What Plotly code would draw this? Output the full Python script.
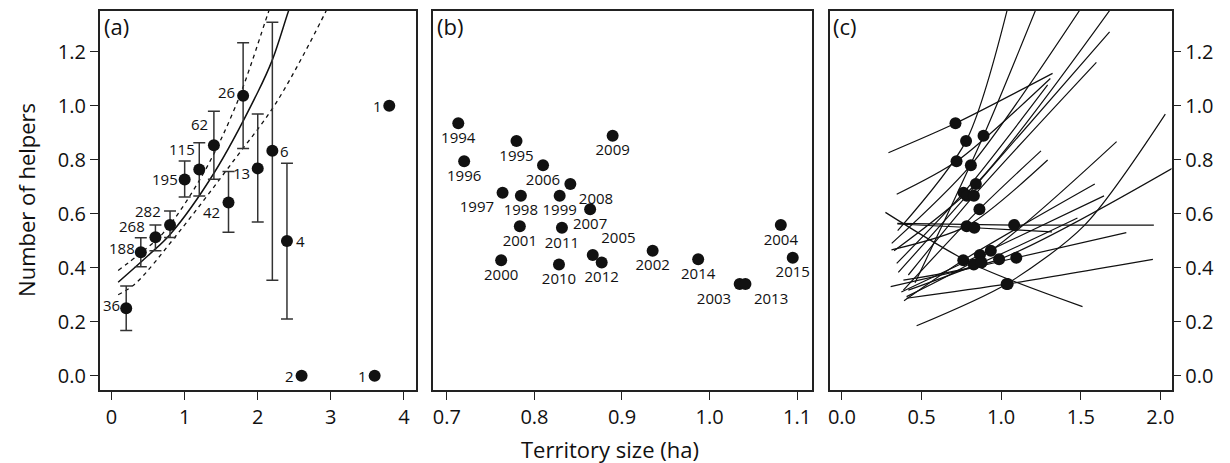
import plotly.graph_objects as go

# ---------------- Panel (a) data ----------------
a_size = [0.2, 0.4, 0.6, 0.8, 1.0, 1.2, 1.4, 1.6, 1.8, 2.0, 2.2, 2.4, 2.6, 3.6, 3.8]
a_help = [0.250, 0.457, 0.513, 0.558, 0.727, 0.764, 0.854, 0.642, 1.037, 0.768, 0.833, 0.499, 0.0, 0.0, 1.0]
a_hi = [0.332, 0.511, 0.558, 0.610, 0.795, 0.863, 0.980, 0.756, 1.233, 0.969, 1.309, 0.787, None, None, None]
a_lo = [0.167, 0.404, 0.463, 0.512, 0.662, 0.666, 0.728, 0.531, 0.842, 0.569, 0.354, 0.210, None, None, None]
a_n = ["36", "188", "268", "282", "195", "115", "62", "42", "26", "13", "6", "4", "2", "1", "1"]
# label offsets from each point, in pixels (right, up)
a_dx = [-15, -19, -23, -22, -20, -17, -14, -17, -17, -16, 12, 14, -12, -12, -12]
a_dy = [3, 4, 11, 14, 0, 20, 21, -10, 4, -5, 0, 0, 0, 0, 0]

fit_x = [0.09, 0.5, 0.8, 1.4, 2.0, 2.2, 2.42, 2.5]
fit_y = [0.346, 0.445, 0.523, 0.75, 1.05, 1.17, 1.35, 1.41]
up_x = [0.09, 0.40, 0.705, 1.23, 1.70, 2.14, 2.2]
up_y = [0.39, 0.455, 0.528, 0.737, 1.00, 1.342, 1.39]
lo_x = [0.09, 0.32, 0.91, 1.68, 2.25, 2.93, 3.0]
lo_y = [0.30, 0.34, 0.528, 0.80, 1.01, 1.348, 1.39]

# ---------------- Panel (b) data ----------------
years = [1994, 1995, 1996, 1997, 1998, 1999, 2000, 2001, 2002, 2003, 2004,
         2005, 2006, 2007, 2008, 2009, 2010, 2011, 2012, 2013, 2014, 2015]
b_size = [0.713, 0.7795, 0.7197, 0.7636, 0.7845, 0.8288, 0.762, 0.7833, 0.935, 1.0344, 1.0814,
          0.8666, 0.8098, 0.8636, 0.841, 0.8893, 0.828, 0.8314, 0.8768, 1.041, 0.987, 1.095]
b_help = [0.935, 0.869, 0.794, 0.678, 0.667, 0.667, 0.428, 0.554, 0.463, 0.340, 0.558,
          0.447, 0.780, 0.617, 0.710, 0.889, 0.412, 0.548, 0.419, 0.340, 0.431, 0.437]
b_pos = ["bottom center", "bottom center", "bottom center", "bottom left", "bottom center",
         "bottom center", "bottom center", "bottom center", "bottom center", "bottom left",
         "bottom center", "top right", "bottom center", "bottom center", "bottom right",
         "bottom center", "bottom center", "bottom center", "bottom center", "bottom right",
         "bottom center", "bottom center"]

# ---------------- Panel (c) data: per-year fitted curves ----------------
c_x0 = [0.292, 0.350, 0.344, 0.344, 0.354, 0.417, 0.390, 0.311, 0.406, 0.469, 0.348,
        0.373, 0.3125, 0.386, 0.3275, 0.459, 0.273, 0.348, 0.417, 0.406, 0.386, 0.306]
c_y0 = [0.826, 0.537, 0.672, 0.416, 0.383, 0.373, 0.278, 0.466, 0.293, 0.185, 0.564,
        0.310, 0.490, 0.317, 0.463, 0.344, 0.605, 0.562, 0.317, 0.287, 0.354, 0.330]
c_x1 = [1.323, 1.04, 1.309, 1.292, 1.681, 1.598, 1.588, 1.292, 1.725, 2.031, 1.959,
        1.646, 1.50, 1.25, 1.69, 1.22, 1.511, 1.319, 1.479, 1.953, 2.08, 1.786]
c_y1 = [1.120, 1.36, 1.101, 1.077, 1.274, 1.161, 0.710, 0.799, 0.867, 0.969, 0.558,
        0.666, 1.36, 0.833, 1.36, 1.36, 0.256, 0.533, 0.584, 0.431, 0.77, 0.530]
c_xm = {2003: 1.523}
c_ym = {2003: 0.557}

FONT = "Open Sans"
BLACK = "#111111"

fig = go.Figure()

# ---- panel (a)
fig.add_trace(go.Scatter(x=fit_x, y=fit_y, mode="lines", line=dict(color=BLACK, width=1.5, shape="spline"),
                         xaxis="x", yaxis="y", showlegend=False))
for dx_, dy_ in ((up_x, up_y), (lo_x, lo_y)):
    fig.add_trace(go.Scatter(x=dx_, y=dy_, mode="lines",
                             line=dict(color=BLACK, width=1.3, dash="4px,4px", shape="spline"),
                             xaxis="x", yaxis="y", showlegend=False))

idx = [i for i in range(len(a_size)) if a_hi[i] is not None]
fig.add_trace(go.Scatter(
    x=[a_size[i] for i in idx], y=[a_help[i] for i in idx], mode="markers",
    marker=dict(color=BLACK, size=12, opacity=0),
    error_y=dict(type="data", symmetric=False,
                 array=[a_hi[i] - a_help[i] for i in idx],
                 arrayminus=[a_help[i] - a_lo[i] for i in idx],
                 color="#333333", thickness=1.5, width=6),
    xaxis="x", yaxis="y", showlegend=False))
fig.add_trace(go.Scatter(
    x=a_size, y=a_help, mode="markers", marker=dict(color=BLACK, size=12), cliponaxis=False,
    xaxis="x", yaxis="y", showlegend=False))

# ---- panel (b)
fig.add_trace(go.Scatter(
    x=b_size, y=b_help, mode="markers+text", text=[str(y) for y in years], textposition=b_pos,
    textfont=dict(family=FONT, size=15, color=BLACK),
    marker=dict(color=BLACK, size=12), cliponaxis=False,
    xaxis="x2", yaxis="y2", showlegend=False))

# ---- panel (c)
for i, yr in enumerate(years):
    xs = [c_x0[i], b_size[i]]
    ys = [c_y0[i], b_help[i]]
    if yr in c_xm:
        xs.append(c_xm[yr]); ys.append(c_ym[yr])
    xs.append(c_x1[i]); ys.append(c_y1[i])
    fig.add_trace(go.Scatter(x=xs, y=ys, mode="lines",
                             line=dict(color=BLACK, width=1.2, shape="spline", smoothing=0.8),
                             xaxis="x3", yaxis="y3", showlegend=False))
fig.add_trace(go.Scatter(x=b_size, y=b_help, mode="markers", marker=dict(color=BLACK, size=12),
                         xaxis="x3", yaxis="y3", showlegend=False))

W, H = 1230, 463
yb, yt = 1 - 390 / H, 1 - 11 / H
YR = [-0.053, 1.351]

common = dict(showline=True, mirror=True, linecolor="#222222", linewidth=1.5, showgrid=False,
              zeroline=False, ticks="outside", ticklen=8, tickwidth=1.3, tickcolor="#222222",
              tickfont=dict(family=FONT, size=20, color=BLACK))

annots = [
    dict(text=a_n[i], x=a_size[i], y=a_help[i], xref="x", yref="y", xshift=a_dx[i], yshift=a_dy[i],
         xanchor="center", yanchor="middle", showarrow=False,
         font=dict(family=FONT, size=15, color=BLACK))
    for i in range(len(a_size))
]
annots += [
    dict(text="(a)", x=100 / W, y=1 - 9 / H, xref="paper", yref="paper", xanchor="left", yanchor="top",
         showarrow=False, font=dict(family=FONT, size=22, color=BLACK)),
    dict(text="(b)", x=435 / W, y=1 - 9 / H, xref="paper", yref="paper", xanchor="left", yanchor="top",
         showarrow=False, font=dict(family=FONT, size=22, color=BLACK)),
    dict(text="(c)", x=832 / W, y=1 - 9 / H, xref="paper", yref="paper", xanchor="left", yanchor="top",
         showarrow=False, font=dict(family=FONT, size=22, color=BLACK)),
    dict(text="Number of helpers", x=24 / W, y=1 - 200 / H, xref="paper", yref="paper",
         xanchor="center", yanchor="middle", textangle=-90, showarrow=False,
         font=dict(family=FONT, size=22, color=BLACK)),
    dict(text="Territory size (ha)", x=610 / W, y=1 - 449 / H, xref="paper", yref="paper",
         xanchor="center", yanchor="middle", showarrow=False,
         font=dict(family=FONT, size=22, color=BLACK)),
]

fig.update_layout(
    width=W, height=H, margin=dict(l=0, r=0, t=0, b=0),
    paper_bgcolor="white", plot_bgcolor="white",
    xaxis=dict(domain=[98 / W, 416 / W], range=[-0.164, 4.17], tickvals=[0, 1, 2, 3, 4], anchor="y", **common),
    yaxis=dict(domain=[yb, yt], range=YR, tickvals=[0, 0.2, 0.4, 0.6, 0.8, 1.0, 1.2],
               tickformat=".1f", anchor="x", **common),
    xaxis2=dict(domain=[433 / W, 813.3 / W], range=[0.6844, 1.117], tickvals=[0.7, 0.8, 0.9, 1.0, 1.1],
                tickformat=".1f", anchor="y2", **common),
    yaxis2=dict(domain=[yb, yt], range=YR, anchor="x2", showline=True, mirror=True, linecolor="#222222",
                linewidth=1.5, showgrid=False, zeroline=False, showticklabels=False, ticks=""),
    xaxis3=dict(domain=[831.7 / W, 1174.3 / W], range=[-0.073, 2.07], tickvals=[0, 0.5, 1.0, 1.5, 2.0],
                tickformat=".1f", anchor="y3", **common),
    yaxis3=dict(domain=[yb, yt], range=YR, side="right", tickvals=[0, 0.2, 0.4, 0.6, 0.8, 1.0, 1.2],
                tickformat=".1f", anchor="x3", **common),
    annotations=annots,
)

fig.write_html("out.html")
